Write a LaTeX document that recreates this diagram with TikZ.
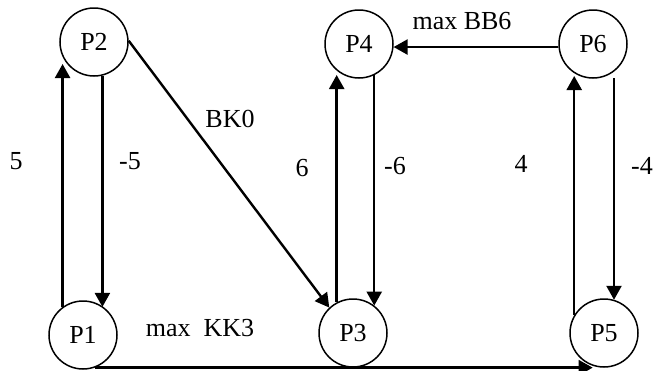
\documentclass[tikz,border=0pt]{standalone}
\usepackage{fontspec}
\setmainfont{Liberation Serif}
\usetikzlibrary{arrows.meta,calc}
\begin{document}
\begin{tikzpicture}[x=1pt,y=-1pt,
  proc/.style={circle,draw,line width=1.5pt,minimum size=68pt,inner sep=0pt,font=\fontsize{26}{30}\selectfont},
  arr/.style={line width=2.4pt,-{Triangle[length=14pt,width=15pt]}},
  lbl/.style={inner sep=0pt,font=\fontsize{26}{30}\selectfont}]
\useasboundingbox (0,0) rectangle (653,370);
\node[proc] (P1) at (83,335) {P1};
\node[proc] (P2) at (94,42) {P2};
\node[proc] (P3) at (353,333) {P3};
\node[proc] (P4) at (359,44) {P4};
\node[proc] (P5) at (604,333) {P5};
\node[proc] (P6) at (593,44) {P6};
\coordinate (t12) at ($(P2.center)+(-31,22)$);
\coordinate (t34) at ($(P4.center)+(-22,31)$);
\coordinate (t56) at ($(P6.center)+(-18,32)$);
\coordinate (s65) at ($(P6.center)+(21,34)$);
% arrows
\draw[arr] (P1.126) -- (P1.126 |- t12);
\draw[arr] (P2.284) -- (P2.284 |- P1.54);
\draw[arr] (P2.2) -- (P3.133);
\draw[arr] (P3.118) -- (P3.118 |- t34);
\draw[arr] (P4.296) -- (P4.296 |- P3.52);
\draw[arr] (P6.185) -- (P4.355);
\draw[arr] (P5.149) -- (P5.149 |- t56);
\draw[arr] (s65) -- (s65 |- P5.73);
\draw[arr] (P1.290) -- (P1.290 -| P5.251);
% labels
\node[lbl] (l5) at (16,161) {5};
\node[lbl] (lm5) at (130,161) {-5};
\node[lbl] (lbk) at (230,119) {BK0};
\node[lbl] (l6) at (302,168) {6};
\node[lbl] (lm6) at (395,166) {-6};
\node[lbl] (l4) at (521,164) {4};
\node[lbl] (lm4) at (642,166) {-4};
\node[lbl] (lbb) at (462,21) {max BB6};
\node[lbl] (lkk) at (200,328) {max\ \ KK3};
\end{tikzpicture}
\end{document}
